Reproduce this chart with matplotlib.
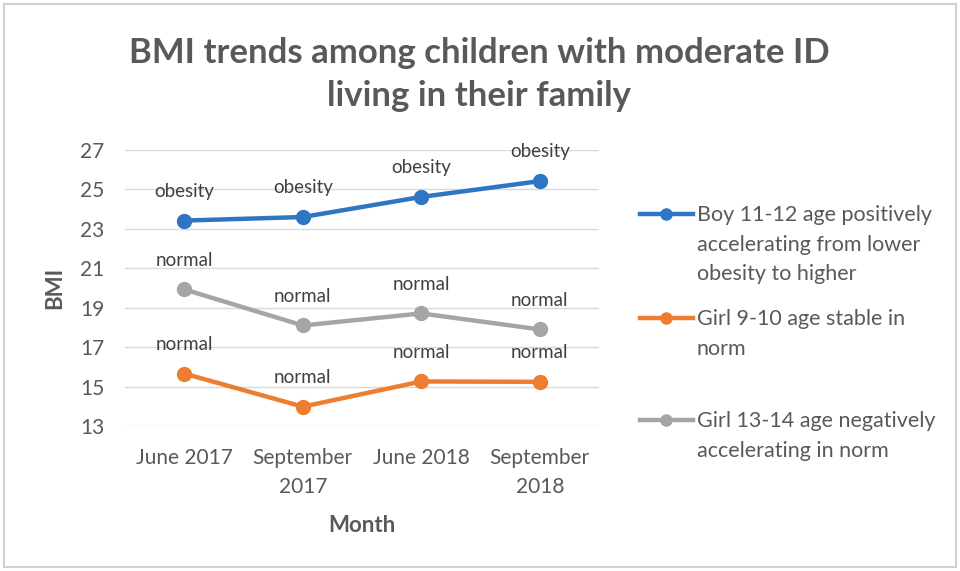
import matplotlib
matplotlib.use("Agg")
import matplotlib.pyplot as plt
from matplotlib.lines import Line2D
from matplotlib.patches import Rectangle

months = ["June 2017", "September\n2017", "June 2018", "September\n2018"]
boy_11_12 = [23.42, 23.60, 24.62, 25.42]
girl_9_10 = [15.66, 13.98, 15.26, 15.24]
girl_13_14 = [19.93, 18.10, 18.71, 17.90]
labels_boy = ["obesity", "obesity", "obesity", "obesity"]
labels_girl_9_10 = ["normal", "normal", "normal", "normal"]
labels_girl_13_14 = ["normal", "normal", "normal", "normal"]
legend_labels = [
    "Boy 11-12 age positively\naccelerating from lower\nobesity to higher",
    "Girl 9-10 age stable in\nnorm",
    "Girl 13-14 age negatively\naccelerating in norm",
]
yticks = [13, 15, 17, 19, 21, 23, 25, 27]

BLUE = "#2E75C2"
ORANGE = "#ED7D31"
GREY = "#A5A5A5"
TEXT = "#595959"
LABEL = "#404040"

plt.rcParams["font.family"] = ["Lato", "DejaVu Sans"]

fig = plt.figure(figsize=(9.6, 5.71), dpi=100)
fig.patch.set_facecolor("white")
ax = fig.add_axes([125 / 960, 1 - 426 / 571, 474 / 960, 276 / 571])

x = list(range(len(months)))
series = [
    (boy_11_12, BLUE, labels_boy),
    (girl_9_10, ORANGE, labels_girl_9_10),
    (girl_13_14, GREY, labels_girl_13_14),
]
for vals, col, labs in series:
    ax.plot(x, vals, color=col, lw=3.2, marker="o", ms=10, zorder=3,
            solid_capstyle="round")
    for xi, v, lab in zip(x, vals, labs):
        ax.annotate(lab, (xi, v), xytext=(0, 21), textcoords="offset points",
                    ha="center", va="center", fontsize=13.5, color=LABEL)

ax.set_xlim(-0.5, 3.5)
ax.set_ylim(13, 27)
ax.set_yticks(yticks)
ax.set_xticks(x)
ax.set_xticklabels(months, linespacing=1.55)
ax.tick_params(axis="both", length=0, labelsize=15, colors=TEXT)
ax.tick_params(axis="y", pad=15)
ax.tick_params(axis="x", pad=16)
ax.grid(axis="y", color="#D9D9D9", lw=1)
ax.set_axisbelow(True)
for s in ax.spines.values():
    s.set_visible(False)

fig.text(55 / 960, 1 - 288 / 571, "BMI", rotation=90, ha="center", va="center",
         fontsize=16, fontweight="bold", color=TEXT)
fig.text(362 / 960, 1 - 525 / 571, "Month", ha="center", va="center",
         fontsize=16, fontweight="bold", color=TEXT)

fig.text(479 / 960, 1 - 53 / 571, "BMI trends among children with moderate ID",
         ha="center", va="center", fontsize=25, fontweight="bold", color=TEXT)
fig.text(479 / 960, 1 - 96 / 571, "living in their family",
         ha="center", va="center", fontsize=25, fontweight="bold", color=TEXT)

# legend drawn by hand so the marker sits on the first text line
leg_y = [214, 318, 420]
for (vals, col, _), lab, yy in zip(series, legend_labels, leg_y):
    fy = 1 - yy / 571
    fig.add_artist(Line2D([640 / 960, 693 / 960], [fy, fy], color=col, lw=3.2,
                          transform=fig.transFigure))
    fig.add_artist(Line2D([666 / 960], [fy], color=col, marker="o", ms=8,
                          transform=fig.transFigure))
    fig.text(697 / 960, fy + 9 / 571, lab, ha="left", va="top", fontsize=15.5,
             color=TEXT, linespacing=1.6)

# chart border
fig.add_artist(Rectangle((4 / 960, 4 / 571), 952 / 960, 563 / 571,
                         transform=fig.transFigure, fill=False,
                         edgecolor="#D0D0D0", lw=1.5))

fig.savefig("out.png", dpi=100, facecolor="white")
